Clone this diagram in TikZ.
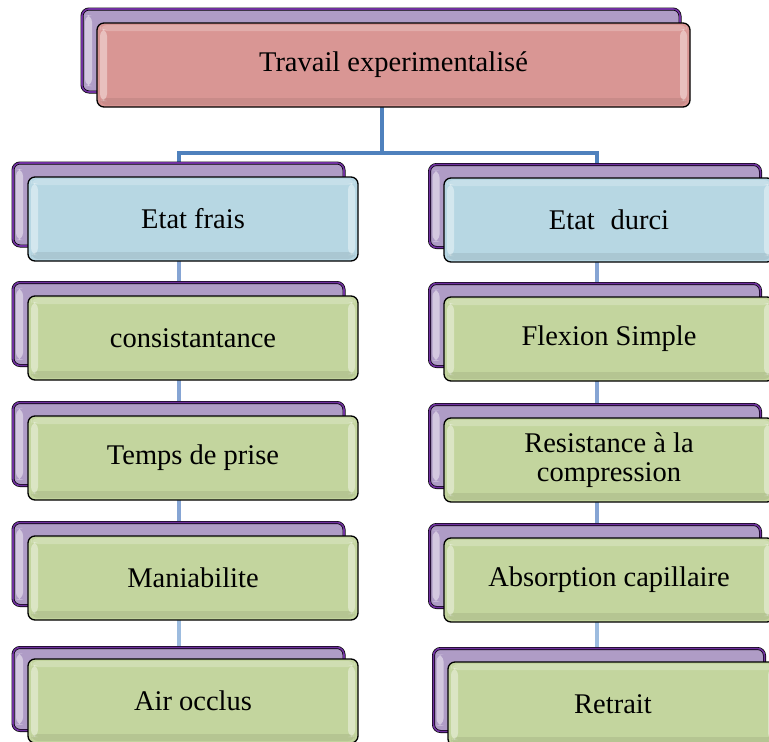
\documentclass[tikz,border=0pt]{standalone}
\usepackage{fontspec}
\setmainfont{Liberation Serif}
\usetikzlibrary{backgrounds}
\definecolor{backfill}{HTML}{AF9CC6}
\definecolor{backedge}{HTML}{7030A0}
\definecolor{pinkf}{HTML}{D99694}
\definecolor{bluef}{HTML}{B7D7E3}
\definecolor{greenf}{HTML}{C3D59E}
\definecolor{conA}{HTML}{4F81BD}
\definecolor{conB}{HTML}{86A5D4}
\definecolor{conC}{HTML}{9DBCDF}
\tikzset{
  bevel/.style={path picture={
    \fill[white,opacity=0.40] ([xshift=3pt,yshift=-6pt]path picture bounding box.north west) rectangle ([xshift=10pt,yshift=6pt]path picture bounding box.south west);
    \fill[white,opacity=0.40] ([xshift=-10pt,yshift=-6pt]path picture bounding box.north east) rectangle ([xshift=-3pt,yshift=6pt]path picture bounding box.south east);
    \fill[white,opacity=0.22] ([xshift=3pt,yshift=-2pt]path picture bounding box.north west) rectangle ([xshift=-3pt,yshift=-8pt]path picture bounding box.north east);
    \fill[black,opacity=0.07] ([xshift=3pt,yshift=9pt]path picture bounding box.south west) rectangle ([xshift=-3pt,yshift=2pt]path picture bounding box.south east);
  }},
  backbox/.style={rectangle, rounded corners=7pt, fill=backfill, draw=black,
    line width=3pt, minimum width=331pt, minimum height=83pt, inner sep=0pt,
    postaction={draw=backedge, line width=1.6pt},
    path picture={
      \fill[white,opacity=0.45] ([xshift=3pt,yshift=-6pt]path picture bounding box.north west) rectangle ([xshift=10pt,yshift=6pt]path picture bounding box.south west);
    }},
  frontbox/.style={rectangle, rounded corners=7pt, draw=black, line width=1.3pt,
    minimum width=330pt, minimum height=84pt, inner sep=0pt, align=center,
    font=\fontsize{28.5}{29}\selectfont, bevel},
  conn/.style={line width=4.5pt, line cap=rect},
}
\begin{document}
\begin{tikzpicture}[x=1pt,y=-1pt]
\useasboundingbox (0,0) rectangle (769,742);
\clip (0,0) rectangle (769,742);
% top
\node[backbox, minimum width=598pt] (tb) at (381,50.5) {};
\node[frontbox, fill=pinkf, minimum width=593pt] (top) at (393.5,65) {\raisebox{-4pt}{Travail experimentalisé}};
% left column
\node[backbox] (lb1) at (178.5,204.5) {};
\node[frontbox, fill=bluef] (l1) at (193,219) {Etat frais};
\node[backbox] (lb2) at (178.5,324) {};
\node[frontbox, fill=greenf] (l2) at (193,338) {consistantance};
\node[backbox] (lb3) at (178.5,444) {};
\node[frontbox, fill=greenf] (l3) at (193,458) {Temps de prise};
\node[backbox] (lb4) at (178.5,564) {};
\node[frontbox, fill=greenf] (l4) at (193,578) {Maniabilite};
\node[backbox] (lb5) at (178.5,689) {};
\node[frontbox, fill=greenf] (l5) at (193,701) {Air occlus};
% right column
\node[backbox] (rb1) at (595,206) {};
\node[frontbox, fill=bluef] (r1) at (609,220) {Etat\hspace{0.55em}durci};
\node[backbox] (rb2) at (595,325) {};
\node[frontbox, fill=greenf] (r2) at (609,339) {Flexion Simple};
\node[backbox] (rb3) at (595,446) {};
\node[frontbox, fill=greenf] (r3) at (609,460) {Resistance à la\\compression};
\node[backbox] (rb4) at (595,566) {};
\node[frontbox, fill=greenf] (r4) at (609,580) {Absorption capillaire};
\node[backbox] (rb5) at (599,690) {};
\node[frontbox, fill=greenf] (r5) at (613,704) {Retrait};
% junctions
\coordinate (j) at (382,153);
\coordinate (jl) at (179,153);
\coordinate (jr) at (597,153);
\begin{pgfonlayer}{background}
\fill[white] (0,0) rectangle (769,742);
\draw[conn, conA] (top.south -| j) -- (j);
\draw[conn, conA] (jl) -- (jr);
\draw[conn, conA] (jl) -- (jl |- l1.north);
\draw[conn, conA] (jr) -- (jr |- r1.north);
\draw[conn, conB, line width=4pt] (jl |- l1.center) -- (jl |- l2.center);
\draw[conn, conB, line width=4pt] (jl |- l2.center) -- (jl |- l3.center);
\draw[conn, conB, line width=4pt] (jl |- l3.center) -- (jl |- l4.center);
\draw[conn, conC, line width=4pt] (jl |- l4.center) -- (jl |- l5.center);
\draw[conn, conB, line width=4pt] (jr |- r1.center) -- (jr |- r2.center);
\draw[conn, conB, line width=4pt] (jr |- r2.center) -- (jr |- r3.center);
\draw[conn, conB, line width=4pt] (jr |- r3.center) -- (jr |- r4.center);
\draw[conn, conC, line width=4pt] (jr |- r4.center) -- (jr |- r5.center);
\end{pgfonlayer}
\end{tikzpicture}
\end{document}
